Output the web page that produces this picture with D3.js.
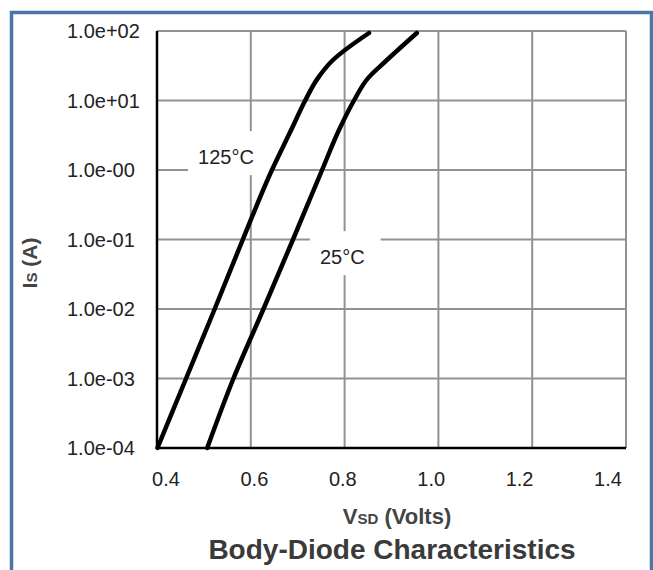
<!DOCTYPE html>
<html>
<head>
<meta charset="utf-8">
<script src="https://cdn.jsdelivr.net/npm/d3@7"></script>
<style>
body { margin: 0; background: #fff; }
svg text { font-family: Arial, "Liberation Sans", sans-serif; }
</style>
</head>
<body>
<div id="chart"></div>
<script>
// axis ticks
const xTicks = [0.4, 0.6, 0.8, 1.0, 1.2, 1.4];
const xTickLabels = ["0.4", "0.6", "0.8", "1.0", "1.2", "1.4"];
const yTicks = [1e2, 1e1, 1e0, 1e-1, 1e-2, 1e-3, 1e-4];
const yTickLabels = ["1.0e+02", "1.0e+01", "1.0e-00", "1.0e-01", "1.0e-02", "1.0e-03", "1.0e-04"];

// VSD (V) vs IS (A)
const v125 = [0.401, 0.462, 0.523, 0.583, 0.645, 0.688, 0.716, 0.743, 0.773, 0.852];
const i125 = [1e-4, 1e-3, 1e-2, 1e-1, 1, 4.01, 10, 21.0, 37.0, 93.6];
const v25 = [0.507, 0.563, 0.627, 0.690, 0.752, 0.790, 0.820, 0.850, 0.888, 0.954];
const i25 = [1e-4, 1e-3, 1e-2, 1e-1, 1, 4.01, 10, 21.0, 37.0, 93.6];

// curve labels (placed in data coords)
const curveLabels = ["125°C", "25°C"];
const labelV = [0.547, 0.795];
const labelI = [1.53, 0.0557];

const W = 653, H = 570;
const margin = {top: 31, right: 27, bottom: 122, left: 157};
const width = W - margin.left - margin.right,
    height = H - margin.top - margin.bottom;

const svg = d3.select("#chart").append("svg")
    .attr("width", W)
    .attr("height", H);

// outer blue frame
svg.append("rect")
    .attr("x", 11.5).attr("y", 12.5)
    .attr("width", 640).attr("height", 600)
    .attr("fill", "none")
    .attr("stroke", "#4a77a8")
    .attr("stroke-width", 3.5);

const g = svg.append("g")
    .attr("transform", "translate(" + margin.left + "," + margin.top + ")");

const xScale = d3.scaleLinear().domain([0.4, 1.4]).range([0, width]);
const yScale = d3.scaleLog().domain([1e-4, 1e2]).range([height, 0]);
// tick labels in the original sit on a slightly narrower spacing than the grid
const xLabelScale = d3.scaleLinear().domain([0.4, 1.4]).range([9, width - 18]);

// grid
g.append("g").selectAll("line")
    .data(xTicks)
    .enter().append("line")
    .attr("x1", d => xScale(d)).attr("x2", d => xScale(d))
    .attr("y1", 0).attr("y2", height)
    .attr("stroke", "#929292").attr("stroke-width", 2);
g.append("g").selectAll("line")
    .data(yTicks)
    .enter().append("line")
    .attr("x1", 0).attr("x2", width)
    .attr("y1", d => yScale(d)).attr("y2", d => yScale(d))
    .attr("stroke", "#929292").attr("stroke-width", 2);

// curve labels with white boxes that cut the grid
const lab = g.append("g").selectAll("g")
    .data(curveLabels)
    .enter().append("g");
lab.append("text")
    .attr("x", (d, i) => xScale(labelV[i]))
    .attr("y", (d, i) => yScale(labelI[i]))
    .attr("text-anchor", "middle")
    .attr("dy", "0.35em")
    .attr("font-size", 20)
    .attr("fill", "#222")
    .text(d => d);
lab.each(function () {
    const t = d3.select(this).select("text");
    const b = t.node().getBBox();
    d3.select(this).insert("rect", "text")
        .attr("x", b.x - 10).attr("y", b.y - 15)
        .attr("width", b.width + 26).attr("height", b.height + 22)
        .attr("fill", "#fff");
});

// black left and bottom axis lines
g.append("line")
    .attr("x1", 0).attr("x2", 0).attr("y1", 0).attr("y2", height)
    .attr("stroke", "#000").attr("stroke-width", 2.5);
g.append("line")
    .attr("x1", 0).attr("x2", width).attr("y1", height).attr("y2", height)
    .attr("stroke", "#000").attr("stroke-width", 2.5);

// curves (x as a smooth function of y, since the curves are steep)
const line = d3.line()
    .x(d => xScale(d[0]))
    .y(d => yScale(d[1]))
    .curve(d3.curveMonotoneY);
[[v125, i125], [v25, i25]].forEach(s => {
    g.append("path")
        .datum(s[0].map((v, i) => [v, s[1][i]]))
        .attr("d", line)
        .attr("fill", "none")
        .attr("stroke", "#000")
        .attr("stroke-width", 4.5)
        .attr("stroke-linecap", "round");
});

// tick labels
g.append("g").selectAll("text")
    .data(yTicks)
    .enter().append("text")
    .attr("x", -90)
    .attr("y", d => yScale(d))
    .attr("dy", "0.35em")
    .attr("font-size", 20)
    .attr("fill", "#222")
    .text((d, i) => yTickLabels[i]);
g.append("g").selectAll("text")
    .data(xTicks)
    .enter().append("text")
    .attr("x", d => xLabelScale(d))
    .attr("y", height + 38)
    .attr("text-anchor", "middle")
    .attr("font-size", 20)
    .attr("fill", "#222")
    .text((d, i) => xTickLabels[i]);

// axis titles
const xt = svg.append("text")
    .attr("x", 397).attr("y", 524)
    .attr("text-anchor", "middle")
    .attr("font-size", 22)
    .attr("font-weight", "bold")
    .attr("fill", "#444");
xt.append("tspan").text("V");
xt.append("tspan").attr("font-size", 15).text("SD");
xt.append("tspan").text(" (Volts)");

const yt = svg.append("text")
    .attr("transform", "translate(37,263) rotate(-90)")
    .attr("text-anchor", "middle")
    .attr("font-size", 21)
    .attr("font-weight", "bold")
    .attr("fill", "#444");
yt.append("tspan").text("I");
yt.append("tspan").attr("font-size", 15).text("S");
yt.append("tspan").text(" (A)");

svg.append("text")
    .attr("x", 392).attr("y", 559)
    .attr("text-anchor", "middle")
    .attr("font-size", 28)
    .attr("font-weight", "bold")
    .attr("fill", "#3a3a3a")
    .text("Body-Diode Characteristics");
</script>
</body>
</html>
